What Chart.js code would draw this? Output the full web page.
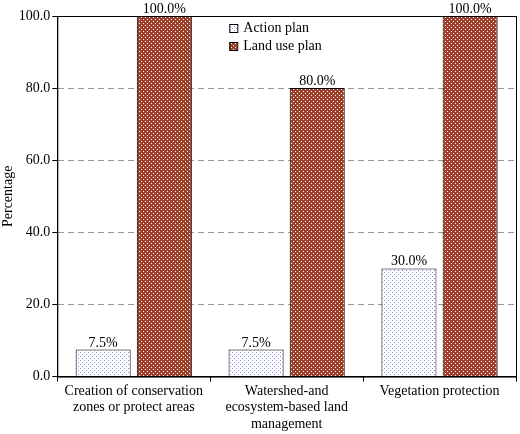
<!DOCTYPE html>
<html><head><script src="https://cdn.jsdelivr.net/npm/chart.js"></script>
<style>body{margin:0;background:#fff}#wrap{width:520px;height:434px}</style></head>
<body><div id="wrap"><canvas id="c"></canvas></div>
<script>
const categories = [["Creation of conservation","zones or protect areas"],["Watershed-and","ecosystem-based land","management"],["Vegetation protection"]];
const actionPlan = [7.5, 7.5, 30.0];
const landUsePlan = [100.0, 80.0, 100.0];
const seriesNames = ["Action plan", "Land use plan"];

function dots() {
    var p = document.createElement("canvas"); p.width = 4; p.height = 4;
    var g = p.getContext("2d");
    g.fillStyle = "#fff"; g.fillRect(0,0,4,4);
    g.fillStyle = "#7f86e6"; g.fillRect(0,0,1,1); g.fillRect(2,2,1,1);
    return g.createPattern(p, "repeat");
}
function hatch() {
    var p = document.createElement("canvas"); p.width = 4; p.height = 4;
    var g = p.getContext("2d");
    g.fillStyle = "#a0402a"; g.fillRect(0,0,4,4);
    g.fillStyle = "#fff"; g.fillRect(1,1,1,1); g.fillRect(3,3,1,1);
    return g.createPattern(p, "repeat");
}
Chart.defaults.font.family = "Liberation Serif";
Chart.defaults.font.size = 14;
Chart.defaults.color = "#000";

const labelPlugin = {
    id: "labels",
    afterDatasetsDraw(chart) {
        var ctx = chart.ctx;
        ctx.save();
        ctx.font = "14px Liberation Serif";
        ctx.fillStyle = "#000";
        ctx.textAlign = "center";
        chart.data.datasets.forEach((ds, i) => {
            chart.getDatasetMeta(i).data.forEach((bar, j) => {
                ctx.fillText(ds.data[j].toFixed(1) + "%", bar.x, bar.y - 3);
            });
        });
        var a = chart.chartArea;
        var lx = a.left + 172, ly = a.top + 8;
        [dots(), hatch()].forEach((f, i) => {
            ctx.fillStyle = f;
            ctx.fillRect(lx, ly + i*18, 8, 8);
            ctx.strokeStyle = "#000"; ctx.lineWidth = 1;
            ctx.strokeRect(lx + 0.5, ly + i*18 + 0.5, 8, 8);
            ctx.fillStyle = "#000"; ctx.textAlign = "left"; ctx.textBaseline = "middle";
            ctx.fillText(seriesNames[i], lx + 14, ly + i*18 + 4);
        });
        ctx.strokeStyle = "#000";
        ctx.strokeRect(a.left + 0.5, a.top + 0.5, a.right - a.left, a.bottom - a.top);
        ctx.restore();
    }
};

new Chart("c", {
    type: "bar",
    data: {
        labels: categories,
        datasets: [
            {label: seriesNames[0], data: actionPlan, backgroundColor: dots(), borderColor: "#000", borderWidth: 1},
            {label: seriesNames[1], data: landUsePlan, backgroundColor: hatch(), borderColor: "#000", borderWidth: 1}
        ]
    },
    options: {
        responsive: true, maintainAspectRatio: false, animation: false,
        layout: {padding: {top: 16, right: 4, left: 0}},
        plugins: {legend: {display: false}, tooltip: {enabled: false}},
        scales: {
            x: {
                categoryPercentage: 0.54, barPercentage: 1.0,
                grid: {display: true, drawOnChartArea: false, offset: true, color: "#000", tickLength: 5},
                border: {color: "#000"},
                ticks: {maxRotation: 0, padding: 1}
            },
            y: {
                min: 0, max: 100,
                ticks: {stepSize: 20, callback: v => v.toFixed(1), padding: 2},
                title: {display: true, text: "Percentage", padding: 0},
                border: {color: "#000", dash: [6, 4]},
                grid: {color: c => c.tick.value === 0 || c.tick.value === 100 ? "rgba(0,0,0,0)" : "#999", tickLength: 5, tickColor: "#000"}
            }
        }
    },
    plugins: [labelPlugin]
});
</script></body></html>
